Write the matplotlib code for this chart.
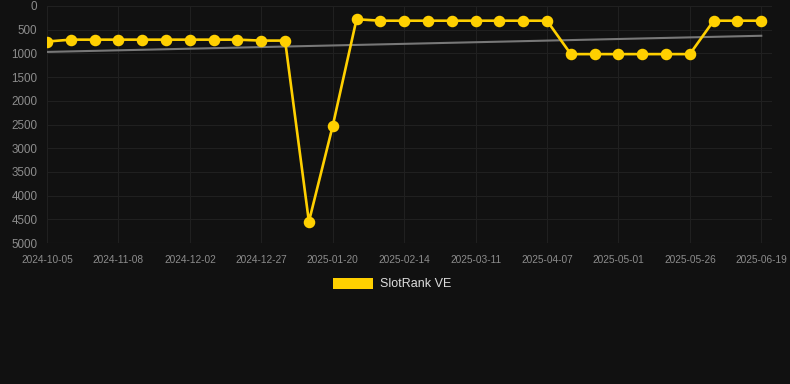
import numpy as np
import matplotlib
matplotlib.use('Agg')
import matplotlib.pyplot as plt
from matplotlib.patches import Patch

plt.rcParams['font.family'] = ['Liberation Sans', 'DejaVu Sans']

# 数据
dates = ['2024-10-05', '2024-10-16', '2024-10-27', '2024-11-08', '2024-11-16', '2024-11-24',
         '2024-12-02', '2024-12-10', '2024-12-18', '2024-12-27', '2025-01-04', '2025-01-12',
         '2025-01-20', '2025-01-28', '2025-02-05', '2025-02-14', '2025-02-22', '2025-03-02',
         '2025-03-11', '2025-03-20', '2025-03-29', '2025-04-07', '2025-04-15', '2025-04-23',
         '2025-05-01', '2025-05-09', '2025-05-17', '2025-05-26', '2025-06-03', '2025-06-11',
         '2025-06-19']
rank = [750, 710, 710, 710, 710, 710, 710, 710, 710, 730, 730, 4550,
        2530, 280, 310, 310, 310, 310, 310, 310, 310, 310, 1015, 1015,
        1015, 1015, 1015, 1015, 310, 310, 310]
y_ticks = [0, 500, 1000, 1500, 2000, 2500, 3000, 3500, 4000, 4500, 5000]
series_name = 'SlotRank VE'

bg = '#111111'
yellow = '#FFD000'

x = np.arange(len(dates))
fit = np.polyfit(x, rank, 1)
trend = np.polyval(fit, x[[0, -1]])

fig = plt.figure(figsize=(7.9, 3.84), dpi=100, facecolor=bg)
ax = fig.add_axes([47 / 790, 1 - 243 / 384, 725 / 790, 237 / 384], facecolor=bg)

# 趋势线
ax.plot(x[[0, -1]], trend, color='#777777', lw=1.5, zorder=2)
# 主线
ax.plot(x, rank, color=yellow, lw=1.9, marker='o', markersize=7.3, zorder=3)

ax.set_ylim(5000, 0)
ax.set_xlim(0, len(dates) - 1 + 0.45)
ax.set_yticks(y_ticks)
ax.set_yticklabels([str(v) for v in y_ticks], fontsize=8.4, color='#8c8c8c')
ax.set_xticks(x[::3])
ax.set_xticklabels(dates[::3], fontsize=7.3, color='#8c8c8c')
ax.tick_params(axis='x', length=0, pad=8.5)
ax.tick_params(axis='y', length=0, pad=7)

ax.grid(True, color='#202020', lw=0.8)
for s in ax.spines.values():
    s.set_visible(False)
ax.axhline(5000, color='#2a2a2a', lw=0.8)

# 图例
fig.legend(handles=[Patch(facecolor=yellow, label=series_name)],
           loc='center', bbox_to_anchor=(392 / 790, 1 - 284 / 384),
           frameon=False, fontsize=9, labelcolor='#dddddd',
           handlelength=3.2, handleheight=1.0, handletextpad=0.5)

fig.savefig('out.png', dpi=100, facecolor=bg)
